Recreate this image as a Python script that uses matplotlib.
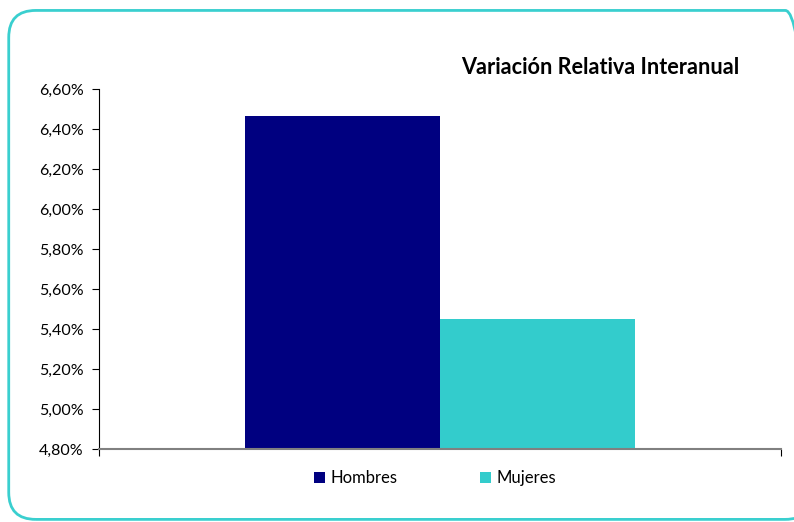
import matplotlib.pyplot as plt
from matplotlib.patches import FancyBboxPatch, Patch
from matplotlib.ticker import FuncFormatter

plt.rcParams['font.family'] = ['Lato', 'DejaVu Sans']

categories = ['Hombres', 'Mujeres']
values = [6.465, 5.45]
colors = ['#000080', '#33CCCC']
yticks = [4.80, 5.00, 5.20, 5.40, 5.60, 5.80, 6.00, 6.20, 6.40, 6.60]

fig = plt.figure(figsize=(7.94, 5.22), dpi=100)

# rounded frame around the whole chart (right edge runs off the image)
frame = FancyBboxPatch((0.011, 0.005), 1.012, 0.975,
                       boxstyle='round,pad=0,rounding_size=0.034',
                       transform=fig.transFigure, facecolor='none',
                       edgecolor='#3ACFCF', linewidth=2, zorder=-1,
                       mutation_aspect=794 / 522)
fig.patches.append(frame)

ax = fig.add_axes([99 / 794, 1 - 449 / 522, 682 / 794, 360 / 522])
ax.set_facecolor('none')

xpos = [-0.5, 0.5]
ax.bar(xpos, [v - 4.80 for v in values], width=1.0, bottom=4.80,
       color=colors, zorder=2)

ax.set_xlim(-1.749, 1.749)
ax.set_ylim(4.80, 6.60)
ax.set_yticks(yticks)
ax.yaxis.set_major_formatter(FuncFormatter(lambda v, p: f'{v:.2f}%'.replace('.', ',')))
ax.tick_params(axis='y', labelsize=11.5, length=5, direction='out', color='black', pad=6)
ax.set_xticks([-1.749, 1.749])
ax.set_xticklabels(['', ''])
ax.tick_params(axis='x', length=5, direction='out', color='black')

ax.spines['top'].set_visible(False)
ax.spines['right'].set_visible(False)
ax.spines['left'].set_color('black')
ax.spines['left'].set_linewidth(0.8)
ax.spines['bottom'].set_color('#808080')
ax.spines['bottom'].set_linewidth(1.5)

fig.text(600 / 794, 1 - 68 / 522, 'Variación Relativa Interanual',
         ha='center', va='center', fontsize=15.6, fontweight='bold')

handles = [Patch(facecolor=c, edgecolor='none') for c in colors]
fig.legend(handles, categories, loc='center', bbox_to_anchor=(435 / 794, 1 - 478 / 522),
           ncol=2, frameon=False, fontsize=12, handlelength=0.65, handleheight=0.65,
           handletextpad=0.3, columnspacing=5.0)

fig.savefig('out.png', dpi=100)
